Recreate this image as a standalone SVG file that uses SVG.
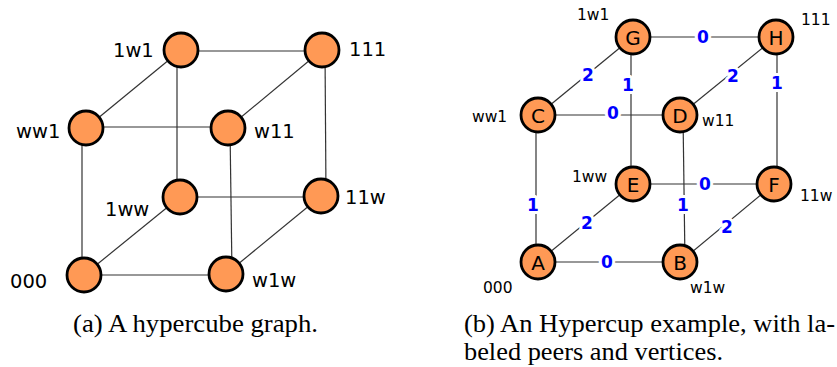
<svg xmlns="http://www.w3.org/2000/svg" width="837" height="367" viewBox="0 0 837 367">
<style>
.e{stroke:#333;stroke-width:1.2;fill:none}
.n{fill:#ff9955;stroke:#000;stroke-width:2.8}
.lb{font-family:"DejaVu Sans",sans-serif;font-size:19.5px;fill:#000}
.ls{font-family:"DejaVu Sans",sans-serif;font-size:15.5px;fill:#000}
.ch{font-family:"DejaVu Sans",sans-serif;font-size:20px;fill:#000;text-anchor:middle}
.w{font-family:"DejaVu Sans",sans-serif;font-size:17px;font-weight:bold;fill:#0000ff;text-anchor:middle;stroke:#fff;stroke-width:6;paint-order:stroke;stroke-linejoin:round}
.cap{font-family:"Liberation Serif",serif;font-size:25px;fill:#000}
</style>
<rect width="837" height="367" fill="#fff"/>
<g id="connectors-a">
<line class="e" x1="181" y1="51" x2="322" y2="51"/>
<line class="e" x1="86" y1="127" x2="228" y2="127"/>
<line class="e" x1="180" y1="197" x2="321" y2="197"/>
<line class="e" x1="84" y1="275" x2="226" y2="275"/>
<line class="e" x1="82" y1="128" x2="82" y2="275"/>
<line class="e" x1="177" y1="50" x2="177" y2="197"/>
<line class="e" x1="230" y1="128" x2="232" y2="274"/>
<line class="e" x1="325" y1="50" x2="326" y2="196"/>
<line class="e" x1="181" y1="50" x2="86" y2="128"/>
<line class="e" x1="322" y1="50" x2="228" y2="128"/>
<line class="e" x1="180" y1="197" x2="84" y2="275"/>
<line class="e" x1="321" y1="196" x2="226" y2="274"/>
</g>
<g id="a-1w1"><circle class="n" cx="181" cy="50" r="17"/><text class="lb" x="113" y="56.5">1w1</text></g>
<g id="a-111"><circle class="n" cx="322" cy="50" r="17"/><text class="lb" x="349" y="56">111</text></g>
<g id="a-ww1"><circle class="n" cx="86" cy="128" r="17"/><text class="lb" x="16" y="138">ww1</text></g>
<g id="a-w11"><circle class="n" cx="228" cy="128" r="17"/><text class="lb" x="254" y="138">w11</text></g>
<g id="a-1ww"><circle class="n" cx="180" cy="197" r="17"/><text class="lb" x="105" y="216">1ww</text></g>
<g id="a-11w"><circle class="n" cx="321" cy="196" r="17"/><text class="lb" x="345" y="204">11w</text></g>
<g id="a-000"><circle class="n" cx="84" cy="275" r="17"/><text class="lb" x="10" y="288">000</text></g>
<g id="a-w1w"><circle class="n" cx="226" cy="274" r="17"/><text class="lb" x="252" y="287">w1w</text></g>

<g id="connectors-b">
<line class="e" x1="633" y1="37" x2="776" y2="37"/>
<line class="e" x1="633" y1="37" x2="538" y2="115"/>
<line class="e" x1="631" y1="37" x2="631" y2="184"/>
<line class="e" x1="776" y1="37" x2="680" y2="115"/>
<line class="e" x1="777" y1="37" x2="777" y2="184"/>
<line class="e" x1="538" y1="115" x2="680" y2="115"/>
<line class="e" x1="536" y1="115" x2="536" y2="262"/>
<line class="e" x1="633" y1="184" x2="774" y2="184"/>
<line class="e" x1="683" y1="115" x2="685" y2="262"/>
<line class="e" x1="538" y1="262" x2="633" y2="184"/>
<line class="e" x1="680" y1="262" x2="774" y2="184"/>
<line class="e" x1="538" y1="262" x2="680" y2="262"/>
<text class="w" x="703" y="43">0</text>
<text class="w" x="588" y="81">2</text>
<text class="w" x="628" y="91">1</text>
<text class="w" x="733" y="82">2</text>
<text class="w" x="777" y="89">1</text>
<text class="w" x="613" y="119">0</text>
<text class="w" x="533" y="211">1</text>
<text class="w" x="705" y="190">0</text>
<text class="w" x="683" y="211">1</text>
<text class="w" x="587" y="229">2</text>
<text class="w" x="727" y="233">2</text>
<text class="w" x="607" y="268">0</text>
</g>
<g id="G"><circle class="n" cx="633" cy="37" r="17"/><text class="ch" x="633" y="44.5">G</text><text class="ls" x="577" y="20">1w1</text></g>
<g id="H"><circle class="n" cx="776" cy="37" r="17"/><text class="ch" x="776" y="44.5">H</text><text class="ls" x="801" y="25">111</text></g>
<g id="C"><circle class="n" cx="538" cy="115" r="17"/><text class="ch" x="538" y="122.5">C</text><text class="ls" x="472" y="122">ww1</text></g>
<g id="D"><circle class="n" cx="680" cy="115" r="17"/><text class="ch" x="680" y="122.5">D</text><text class="ls" x="702" y="126">w11</text></g>
<g id="E"><circle class="n" cx="633" cy="184" r="17"/><text class="ch" x="633" y="191.5">E</text><text class="ls" x="572" y="182">1ww</text></g>
<g id="F"><circle class="n" cx="774" cy="184" r="17"/><text class="ch" x="774" y="191.5">F</text><text class="ls" x="800" y="201">11w</text></g>
<g id="A"><circle class="n" cx="538" cy="262" r="17"/><text class="ch" x="538" y="269.5">A</text><text class="ls" x="483" y="293">000</text></g>
<g id="B"><circle class="n" cx="680" cy="262" r="17"/><text class="ch" x="680" y="269.5">B</text><text class="ls" x="690" y="293">w1w</text></g>

<g id="captions">
<text class="cap" x="73" y="332" textLength="245" lengthAdjust="spacingAndGlyphs">(a)  A hypercube graph.</text>
<text class="cap" x="464" y="332" textLength="371" lengthAdjust="spacingAndGlyphs">(b)  An Hypercup example, with la-</text>
<text class="cap" x="464" y="360" textLength="259" lengthAdjust="spacingAndGlyphs">beled peers and vertices.</text>
</g>
</svg>
